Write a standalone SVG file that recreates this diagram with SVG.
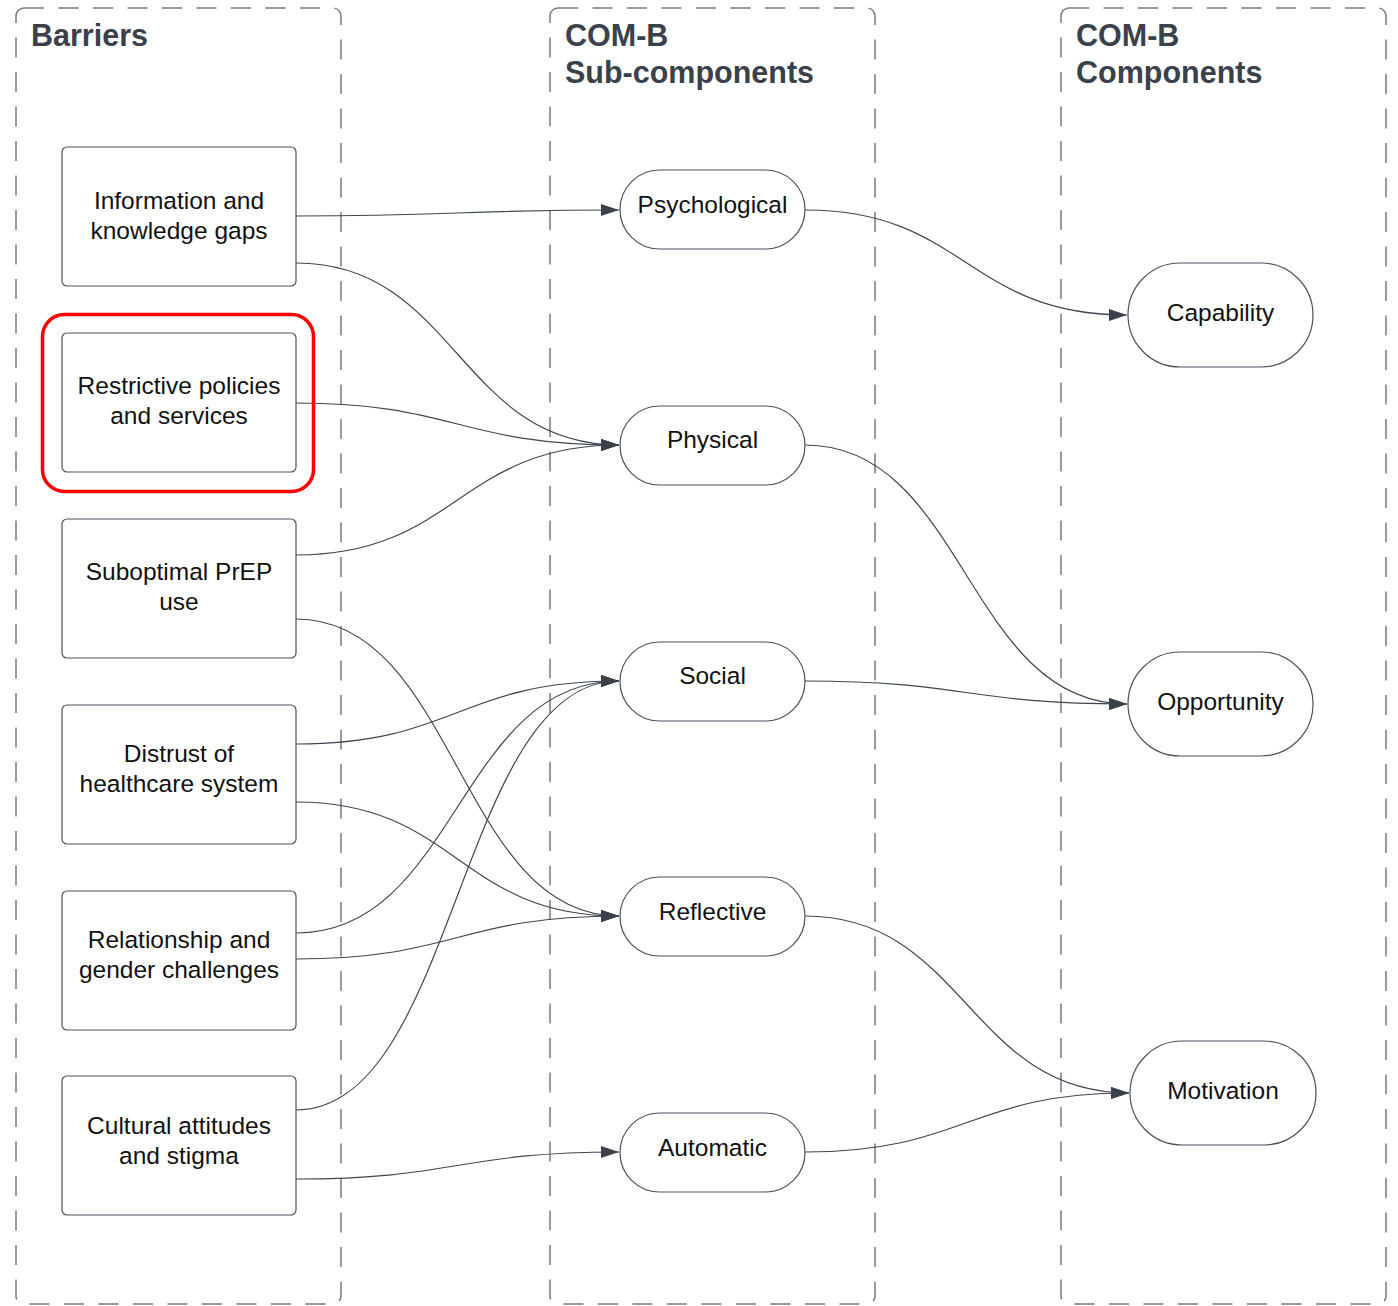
<svg xmlns="http://www.w3.org/2000/svg" width="1398" height="1306" viewBox="0 0 1398 1306">
<style>
.lane{fill:none;stroke:#737a86;stroke-width:1.5;stroke-dasharray:20 14.5}
.title{font-family:"Liberation Sans",Arial,sans-serif;font-weight:bold;font-size:30.5px;fill:#3a414b}
.box{fill:#ffffff;stroke:#4b525d;stroke-width:1.2}
.lbl{font-family:"Liberation Sans",Arial,sans-serif;font-size:24.5px;fill:#111111;text-anchor:middle}
.conn path{fill:none;stroke:#3f4651;stroke-width:1.2;marker-end:url(#arr)}
</style>
<defs>
<marker id="arr" markerUnits="userSpaceOnUse" markerWidth="18" markerHeight="12" refX="18" refY="6" orient="auto">
<path d="M0,0 L18,6 L0,12 z" fill="#3a414b"/>
</marker>
</defs>
<rect width="1398" height="1306" fill="#ffffff"/>
<g id="lane-barriers">
<rect class="lane" x="16" y="8" width="325" height="1296" rx="8"/>
<text class="title" x="31" y="46">Barriers</text>
</g>
<g id="lane-subcomponents">
<rect class="lane" x="550" y="8" width="325" height="1296" rx="8"/>
<text class="title" x="565" y="46">COM-B</text>
<text class="title" x="565" y="83">Sub-components</text>
</g>
<g id="lane-components">
<rect class="lane" x="1061" y="8" width="325" height="1296" rx="8"/>
<text class="title" x="1076" y="46">COM-B</text>
<text class="title" x="1076" y="83">Components</text>
</g>
<g class="conn" id="connectors">
<path d="M296,216 C456,216 459,210 619,210"/>
<path d="M296,263 C456,263 459,445 619,445"/>
<path d="M296,403 C456,403 459,445 619,445"/>
<path d="M296,555 C456,555 459,445 619,445"/>
<path d="M296,619 C456,619 459,916 619,916"/>
<path d="M296,744 C456,744 459,681 619,681"/>
<path d="M296,802 C456,802 459,916 619,916"/>
<path d="M296,933 C456,933 459,681 619,681"/>
<path d="M296,959 C456,959 459,916 619,916"/>
<path d="M296,1110 C456,1110 459,681 619,681"/>
<path d="M296,1179 C456,1179 459,1152 619,1152"/>
<path d="M805,210 C965,210 967,315 1127,315"/>
<path d="M805,445 C965,445 967,704 1127,704"/>
<path d="M805,681 C965,681 967,704 1127,704"/>
<path d="M805,916 C965,916 969,1093 1129,1093"/>
<path d="M805,1152 C965,1152 969,1093 1129,1093"/>
</g>
<g id="highlight">
<rect x="42.5" y="314.5" width="271" height="177" rx="22" fill="none" stroke="#ff0000" stroke-width="3.5"/>
</g>
<g id="n-info">
<rect class="box" x="62" y="147" width="234" height="139" rx="5"/>
<text class="lbl" x="179" y="209">Information and</text>
<text class="lbl" x="179" y="239">knowledge gaps</text>
</g>
<g id="n-restrictive">
<rect class="box" x="62" y="333" width="234" height="139" rx="5"/>
<text class="lbl" x="179" y="394">Restrictive policies</text>
<text class="lbl" x="179" y="424">and services</text>
</g>
<g id="n-suboptimal">
<rect class="box" x="62" y="519" width="234" height="139" rx="5"/>
<text class="lbl" x="179" y="580">Suboptimal PrEP</text>
<text class="lbl" x="179" y="610">use</text>
</g>
<g id="n-distrust">
<rect class="box" x="62" y="705" width="234" height="139" rx="5"/>
<text class="lbl" x="179" y="762">Distrust of</text>
<text class="lbl" x="179" y="792">healthcare system</text>
</g>
<g id="n-relationship">
<rect class="box" x="62" y="891" width="234" height="139" rx="5"/>
<text class="lbl" x="179" y="948">Relationship and</text>
<text class="lbl" x="179" y="978">gender challenges</text>
</g>
<g id="n-cultural">
<rect class="box" x="62" y="1076" width="234" height="139" rx="5"/>
<text class="lbl" x="179" y="1134">Cultural attitudes</text>
<text class="lbl" x="179" y="1164">and stigma</text>
</g>
<g id="n-psychological">
<rect class="box" x="620" y="170" width="185" height="79" rx="39.5"/>
<text class="lbl" x="712.5" y="213">Psychological</text>
</g>
<g id="n-physical">
<rect class="box" x="620" y="406" width="185" height="79" rx="39.5"/>
<text class="lbl" x="712.5" y="448">Physical</text>
</g>
<g id="n-social">
<rect class="box" x="620" y="642" width="185" height="79" rx="39.5"/>
<text class="lbl" x="712.5" y="684">Social</text>
</g>
<g id="n-reflective">
<rect class="box" x="620" y="877" width="185" height="79" rx="39.5"/>
<text class="lbl" x="712.5" y="920">Reflective</text>
</g>
<g id="n-automatic">
<rect class="box" x="620" y="1113" width="185" height="79" rx="39.5"/>
<text class="lbl" x="712.5" y="1156">Automatic</text>
</g>
<g id="n-capability">
<rect class="box" x="1128" y="263" width="185" height="104" rx="52"/>
<text class="lbl" x="1220.5" y="321">Capability</text>
</g>
<g id="n-opportunity">
<rect class="box" x="1128" y="652" width="185" height="104" rx="52"/>
<text class="lbl" x="1220.5" y="710">Opportunity</text>
</g>
<g id="n-motivation">
<rect class="box" x="1130" y="1041" width="186" height="104" rx="52"/>
<text class="lbl" x="1223" y="1099">Motivation</text>
</g>
</svg>
